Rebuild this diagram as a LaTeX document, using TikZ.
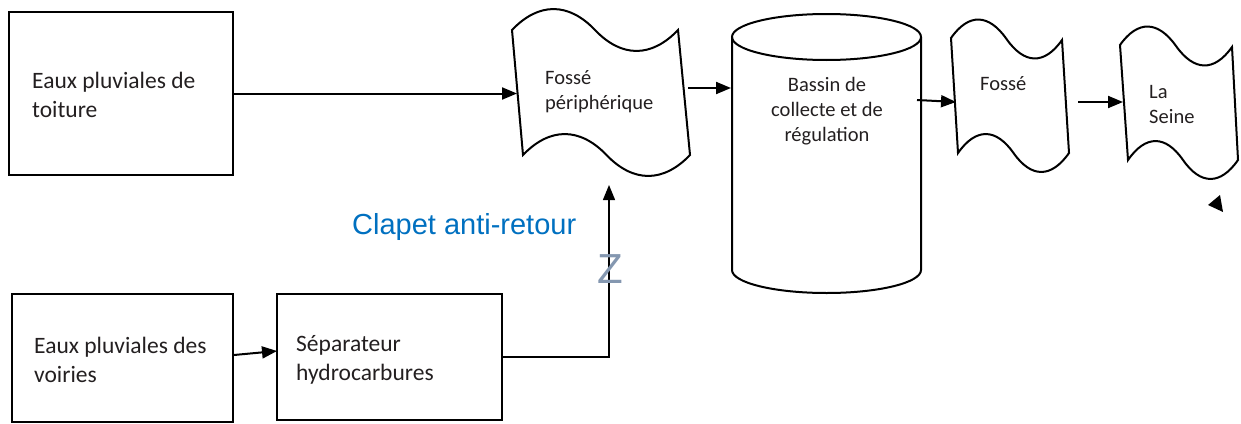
\documentclass[tikz,border=0pt]{standalone}
\usepackage{fontspec}
\setmainfont{Carlito}
\newfontfamily\arialfont{Liberation Sans}
\usetikzlibrary{arrows.meta}
\definecolor{inkgray}{HTML}{231F20}
\definecolor{clapetblue}{HTML}{0070C0}
\definecolor{valvegray}{HTML}{8497B0}

\tikzset{
  outline/.style={draw=black, line width=2pt},
  boxshape/.style={outline, rectangle, inner sep=0pt},
  flow/.style={draw=black, line width=2pt, -{Triangle[length=15pt,width=12pt]}},
  thinflow/.style={draw=black, line width=1.4pt, -{Triangle[length=15pt,width=12pt]}},
  boxtext/.style={anchor=base west, align=left, inner sep=0pt, text=inkgray,
    font=\fontsize{23.5}{29}\selectfont},
  shapetext/.style={inner sep=0pt, text=inkgray, font=\fontsize{20.5}{25}\selectfont},
}

% Wavy "punched tape" panel: corners TL(#1,#2) TR(#3,#4) BR(#5,#6) BL(#7,#8), wave amplitude #9
\newcommand\wavepanel[9]{%
  \pgfmathsetmacro\wt{#3-#1}%
  \pgfmathsetmacro\wb{#5-#7}%
  \pgfmathsetmacro\ca{0.16*\wt}%
  \pgfmathsetmacro\cb{0.16*\wb}%
  \pgfmathsetmacro\hh{1.33*#9}%
  \pgfmathsetmacro\mtx{(#1+#3)/2}\pgfmathsetmacro\mty{(#2+#4)/2}%
  \pgfmathsetmacro\mbx{(#5+#7)/2}\pgfmathsetmacro\mby{(#6+#8)/2}%
  \draw[outline, line join=miter]
    (#1,#2) .. controls ({#1+\ca},{#2-\hh}) and ({\mtx-\ca},{\mty-\hh}) .. (\mtx,\mty)
    .. controls ({\mtx+\ca},{\mty+\hh}) and ({#3-\ca},{#4+\hh}) .. (#3,#4)
    -- (#5,#6)
    .. controls ({#5-\cb},{#6+\hh}) and ({\mbx+\cb},{\mby+\hh}) .. (\mbx,\mby)
    .. controls ({\mbx-\cb},{\mby-\hh}) and ({#7+\cb},{#8-\hh}) .. (#7,#8)
    -- cycle;
}

\begin{document}
\begin{tikzpicture}[x=1pt,y=-1pt]
\useasboundingbox (0,0) rectangle (1241,423);

% source boxes
\node[boxshape, minimum width=224pt, minimum height=163pt] (roofbox) at (121,93.5) {};
\node[boxshape, minimum width=221pt, minimum height=128pt] (roadbox) at (122.5,358) {};
\node[boxshape, minimum width=225pt, minimum height=126pt] (sepbox) at (389.5,357) {};
% (base anchor of a multi-line node sits on its last line)
\node[boxtext] (rooftext) at (32,117) {Eaux pluviales de\\toiture};
\node[boxtext] (roadtext) at (34,382) {Eaux pluviales des\\voiries};
\node[boxtext] (septext) at (296,380) {Séparateur\\hydrocarbures};

% ditches and river
\wavepanel{512}{30}{678}{30}{690}{155}{523}{155}{21}
\wavepanel{951}{38}{1062}{40}{1069}{153}{958}{153}{19}
\wavepanel{1120}{45}{1232}{47}{1238}{160}{1128}{160}{19}
\node[shapetext, anchor=base west, align=left] (ditchtext) at (545,109) {Fossé\\périphérique};
\node[shapetext, anchor=base west] (ditchtwotext) at (980,90) {Fossé};
\node[shapetext, anchor=base west, align=left] (rivertext) at (1149,123) {La\\Seine};

% storage basin
\draw[outline] (732,37) -- (732,270) arc[start angle=180, end angle=360, x radius=94.5pt, y radius=23pt] -- (921,37);
\draw[outline] (826.5,37) ellipse [x radius=94.5pt, y radius=23pt];
\node[shapetext, anchor=base, align=center] (basintext) at (827,141) {Bassin de\\collecte et de\\régulation};

% connector end points on the wavy outlines and the basin
\coordinate (ditchin) at (517,93.5);
\coordinate (ditchout) at (688,88);
\coordinate (basinin) at (731,88);
\coordinate (basinout) at (917,100);
\coordinate (ditchtwoin) at (956,102);
\coordinate (ditchtwoout) at (1078,102);
\coordinate (riverin) at (1123,102);
\coordinate (valvein) at (609,185);
\coordinate (sepin) at (277,351);

% flows
\draw[flow] (roofbox.east) -- (ditchin);
\draw[flow] (ditchout) -- (basinin);
\draw[flow] (basinout) -- (ditchtwoin);
\draw[flow] (ditchtwoout) -- (riverin);
\draw[flow] ([yshift=3pt]roadbox.east) -- (sepin);
\draw[thinflow] (sepbox.east) -| (valvein);

% check valve
\node[inner sep=0pt, anchor=base, text=valvegray, font=\arialfont\fontsize{42}{42}\selectfont] (valve) at (610.5,283) {Z};
\node[inner sep=0pt, anchor=base west, text=clapetblue, font=\arialfont\fontsize{29}{34}\selectfont] (valvelabel) at (352,234) {Clapet anti-retour};

% loose arrowhead below the river
\fill[black] (1208,205) -- (1220,195) -- (1223,212) -- cycle;
\end{tikzpicture}
\end{document}
